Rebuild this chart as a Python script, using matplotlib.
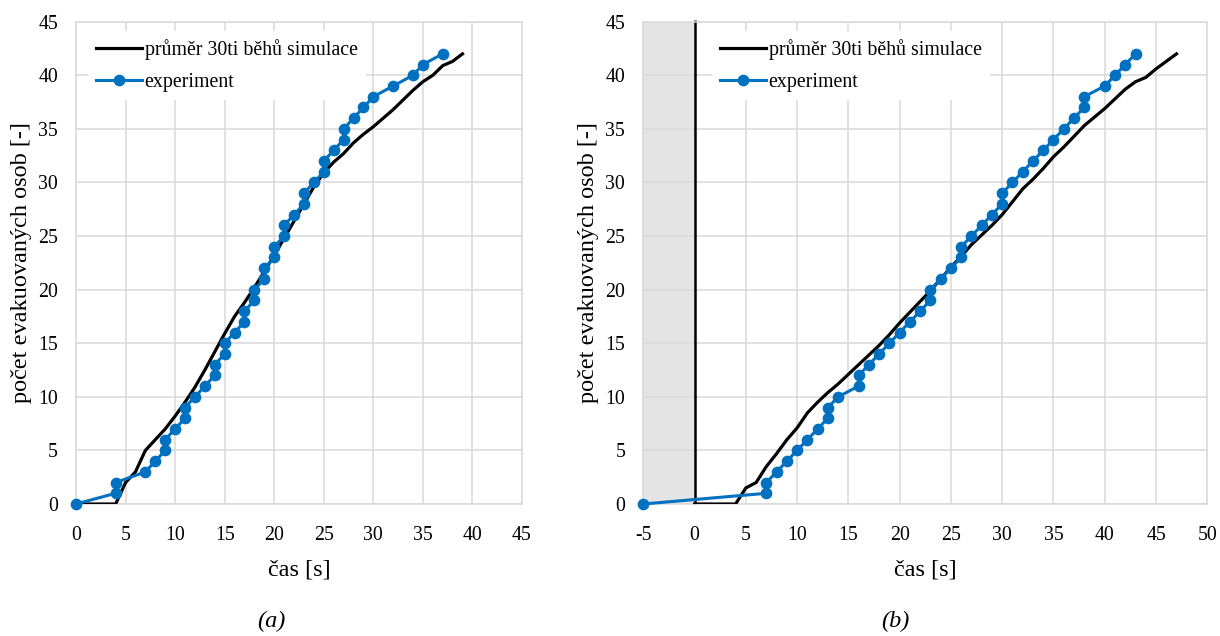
import matplotlib
matplotlib.use("Agg")
import matplotlib.pyplot as plt

plt.rcParams["font.family"] = ["Liberation Serif", "DejaVu Serif"]
plt.rcParams["axes.unicode_minus"] = False

# (a) simulation mean and experiment
sim_a_t = list(range(0, 40))
sim_a_n = [0, 0, 0, 0, 0, 2.0, 3.0, 5.0, 6.0, 7.0, 8.2, 9.5, 10.9, 12.5, 14.2,
           15.9, 17.5, 18.8, 20.2, 21.7, 23.2, 24.8, 26.4, 28.0, 29.6, 30.9,
           31.9, 32.7, 33.7, 34.5, 35.2, 36.0, 36.8, 37.7, 38.6, 39.4, 40.0,
           40.9, 41.3, 42.0]
exp_a_t = [0, 4, 4, 7, 8, 9, 9, 10, 11, 11, 12, 13, 14, 14, 15, 15, 16, 17, 17,
           18, 18, 19, 19, 20, 20, 21, 21, 22, 23, 23, 24, 25, 25, 26, 27, 27,
           28, 29, 30, 32, 34, 35, 37]
exp_a_n = list(range(0, 43))

# (b) simulation mean and experiment
sim_b_t = list(range(0, 48))
sim_b_n = [0, 0, 0, 0, 0, 1.5, 2.0, 3.5, 4.7, 6.0, 7.1, 8.5, 9.5, 10.4, 11.2,
           12.1, 13.0, 13.9, 14.8, 15.8, 16.9, 17.9, 18.9, 19.9, 21.0, 22.1,
           23.1, 24.2, 25.1, 26.0, 27.0, 28.2, 29.4, 30.3, 31.3, 32.4, 33.3,
           34.3, 35.3, 36.1, 36.9, 37.8, 38.7, 39.4, 39.8, 40.6, 41.3, 42.0]
exp_b_t = [-5, 7, 7, 8, 9, 10, 11, 12, 13, 13, 14, 16, 16, 17, 18, 19, 20, 21,
           22, 23, 23, 24, 25, 26, 26, 27, 28, 29, 30, 30, 31, 32, 33, 34, 35,
           36, 37, 38, 38, 40, 41, 42, 43]
exp_b_n = list(range(0, 43))

y_ticks = list(range(0, 50, 5))
x_ticks_a = list(range(0, 50, 5))
x_ticks_b = list(range(-5, 55, 5))

BLUE = "#0070C0"
GRID = "#d9d9d9"

fig = plt.figure(figsize=(12.2, 6.36), dpi=100)
ax_a = fig.add_axes([76 / 1220, 132 / 636, 446 / 1220, 482.3 / 636])
ax_b = fig.add_axes([643.3 / 1220, 132 / 636, 564 / 1220, 482.3 / 636])


def style(ax, xticks, xlim, ylab_x):
    ax.set_xlim(*xlim)
    ax.set_ylim(0, 45)
    ax.set_xticks(xticks)
    ax.set_xticklabels([str(v) for v in xticks])
    ax.set_yticks(y_ticks)
    ax.set_yticklabels([str(v) for v in y_ticks])
    ax.tick_params(length=0, labelsize=14.3)
    ax.tick_params(axis="x", pad=16)
    ax.tick_params(axis="y", pad=13)
    ax.grid(True, color=GRID, lw=1.1)
    ax.set_axisbelow(True)
    for s in ax.spines.values():
        s.set_color(GRID)
        s.set_linewidth(1.1)
    ax.set_xlabel("čas [s]", fontsize=17.5, labelpad=10.5)
    ax.set_ylabel("počet evakuovaných osob [-]", fontsize=17.5)
    ax.yaxis.set_label_coords(ylab_x, 0.5)


# --- (a)
style(ax_a, x_ticks_a, (0, 45), -44 / 446)
ax_a.plot(sim_a_t, sim_a_n, color="black", lw=2.3, label="průměr 30ti běhů simulace",
          zorder=3, solid_joinstyle="miter")
ax_a.plot(exp_a_t, exp_a_n, color=BLUE, lw=2.2, marker="o", ms=7.4,
          label="experiment", zorder=4, clip_on=False)

# --- (b)
style(ax_b, x_ticks_b, (-5, 50), -44 / 564)
ax_b.axvspan(-5, 0, color="#e4e4e4", zorder=0.3, lw=0)
ax_b.axvline(0, ymin=0, ymax=1.004, color="black", lw=1.8, zorder=2.5,
             clip_on=False, solid_capstyle="butt")
ax_b.plot(sim_b_t, sim_b_n, color="black", lw=2.3, label="průměr 30ti běhů simulace",
          zorder=3, solid_joinstyle="miter")
ax_b.plot(exp_b_t, exp_b_n, color=BLUE, lw=2.2, marker="o", ms=7.4,
          label="experiment", zorder=4, clip_on=False)

for ax, x0 in ((ax_a, (88 - 76) / 446), (ax_b, (712 - 643.3) / 564)):
    leg = ax.legend(loc="upper left", bbox_to_anchor=(x0, (504 - 31) / 482.3),
                    borderaxespad=0, fontsize=14.3, frameon=True, fancybox=False,
                    handlelength=2.3, handletextpad=0.15, labelspacing=0.68,
                    borderpad=0.4)
    leg.get_frame().set_facecolor("white")
    leg.get_frame().set_edgecolor("none")
    leg.get_frame().set_alpha(1)
    leg.set_zorder(5)

fig.text(271 / 1220, 1 - 621 / 636, "(a)", fontsize=17.5, style="italic",
         ha="center", va="center")
fig.text(895 / 1220, 1 - 621 / 636, "(b)", fontsize=17.5, style="italic",
         ha="center", va="center")

fig.savefig("out.png", dpi=100)
